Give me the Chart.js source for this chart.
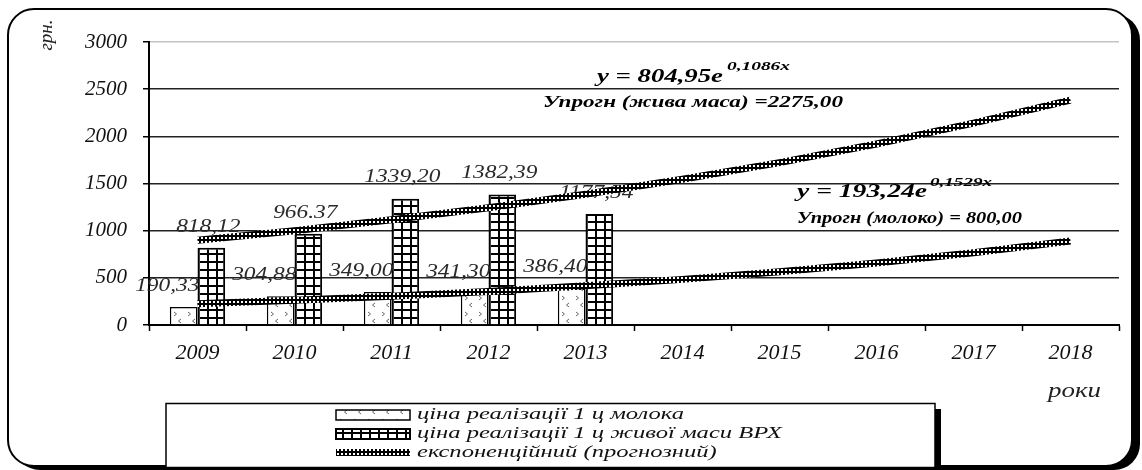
<!DOCTYPE html>
<html>
<head>
<meta charset="utf-8">
<script src="https://cdn.jsdelivr.net/npm/chart.js@4"></script>
<style>
html, body { margin: 0; padding: 0; background: #fff; }
canvas { display: block; }
</style>
</head>
<body>
<canvas id="grafik" width="1142" height="470"></canvas>
<script>
/* dani */
var roky = ['2009', '2010', '2011', '2012', '2013', '2014', '2015', '2016', '2017', '2018'];
var cinaMoloka = [190.33, 304.88, 349.00, 341.30, 386.40, null, null, null, null, null];
var cinaZhyvoiMasy = [818.12, 966.37, 1339.20, 1382.39, 1177.54, null, null, null, null, null];
var pidpysyMoloko = ['190,33', '304,88', '349,00', '341,30', '386,40'];
var pidpysyZhyvaMasa = ['818,12', '966.37', '1339,20', '1382,39', '1177,54'];
var trendZhyvaMasa = [897.3, 1000.2, 1115.0, 1242.9, 1385.5, 1544.4, 1721.6, 1919.1, 2139.3, 2384.7];
var trendMoloko = [225.2, 262.4, 305.7, 356.2, 415.0, 483.6, 563.5, 656.6, 765.1, 891.5];
var yMaks = 3000;
var yKrok = 500;

var shryft = 'Liberation Serif';

/* vizerunky */
function tegel(w, h, teken) {
    var c = document.createElement('canvas');
    c.width = w; c.height = h;
    var g = c.getContext('2d');
    g.fillStyle = '#fff';
    g.fillRect(0, 0, w, h);
    teken(g);
    return c;
}
var tegelMoloko = tegel(14, 16, function (g) {
    g.strokeStyle = '#666';
    g.lineWidth = 1;
    g.beginPath();
    g.moveTo(4, 3); g.lineTo(6.5, 5); g.lineTo(4, 7);
    g.moveTo(11, 10); g.lineTo(8.5, 12); g.lineTo(11, 14);
    g.stroke();
});
var tegelZhyva = tegel(9, 8, function (g) {
    g.fillStyle = '#000';
    g.fillRect(0, 0, 2, 8);
    g.fillRect(0, 0, 9, 2);
});
var tegelTrend = tegel(4, 4, function (g) {
    g.fillStyle = '#000';
    g.fillRect(0, 0, 4, 4);
    g.fillStyle = '#fff';
    g.fillRect(1, 1, 2, 2);
});

function vizerunok(c, t, zsuv) {
    var p = c.chart.ctx.createPattern(t, 'repeat');
    if (c.dataIndex !== undefined && c.chart.scales && c.chart.scales.x && c.chart.chartArea) {
        var x = c.chart.scales.x.getPixelForValue(c.dataIndex);
        var shyr = c.chart.scales.x.width / roky.length * 0.57 / 2;
        p.setTransform(new DOMMatrix([1, 0, 0, 1, Math.round(x + zsuv * shyr), c.chart.chartArea.bottom]));
    }
    return p;
}

function ramka(g, x, y, w, h, r) {
    g.beginPath();
    g.moveTo(x + r, y);
    g.lineTo(x + w - r, y);
    g.arcTo(x + w, y, x + w, y + r, r);
    g.lineTo(x + w, y + h - r);
    g.arcTo(x + w, y + h, x + w - r, y + h, r);
    g.lineTo(x + r, y + h);
    g.arcTo(x, y + h, x, y + h - r, r);
    g.lineTo(x, y + r);
    g.arcTo(x, y, x + r, y, r);
    g.closePath();
}

// tekst, roztiahnutyi po horyzontali (originalna kartynka roztiahnuta)
function tekst(g, t, x, y, font, sx, align) {
    g.save();
    g.font = font;
    g.translate(x, y);
    g.scale(sx, 1);
    g.textAlign = align || 'left';
    g.fillText(t, 0, 0);
    g.restore();
}
// tekst, pidignanyi do shyryny
function tekstShyr(g, t, x, y, font, shyr) {
    g.save();
    g.font = font;
    var w = g.measureText(t).width;
    g.restore();
    tekst(g, t, x, y, font, shyr / w, 'left');
}

var labelsGedaan = false;

var prykrasy = {
    id: 'prykrasy',
    beforeDraw: function (chart) {
        var g = chart.ctx;
        g.save();
        g.fillStyle = '#fff';
        g.fillRect(0, 0, chart.width, chart.height);
        g.fillStyle = '#000';
        ramka(g, 14, 14, 1126, 456, 26);
        g.fill();
        g.fillStyle = '#fff';
        ramka(g, 8, 9, 1124, 457, 26);
        g.fill();
        g.lineWidth = 2;
        g.strokeStyle = '#000';
        g.stroke();
        g.restore();
        labelsGedaan = false;
    },
    beforeDatasetDraw: function (chart, args) {
        if (args.meta.type !== 'line' || labelsGedaan) return;
        labelsGedaan = true;
        var g = chart.ctx;
        g.save();
        g.fillStyle = '#2a2a2a';
        g.textBaseline = 'middle';
        var f = 'italic 18px "' + shryft + '"';
        var m0 = chart.getDatasetMeta(0).data;
        var m1 = chart.getDatasetMeta(1).data;
        pidpysyMoloko.forEach(function (t, i) {
            var b = m0[i];
            tekst(g, t, b.x + b.width / 2 + 2, b.y - 21, f, 1.3, 'right');
        });
        pidpysyZhyvaMasa.forEach(function (t, i) {
            var b = m1[i];
            tekst(g, t, b.x - 3, b.y - 21, f, 1.3, 'center');
        });
        g.restore();
    },
    afterDraw: function (chart) {
        var g = chart.ctx;
        g.save();
        g.fillStyle = '#000';
        g.textBaseline = 'alphabetic';

        // rivniannia
        tekstShyr(g, 'y = 804,95e', 597, 82, 'bold italic 18px "' + shryft + '"', 126);
        tekstShyr(g, '0,1086x', 727, 70, 'bold italic 12px "' + shryft + '"', 63);
        tekstShyr(g, 'Упрогн (жива маса) =2275,00', 543, 107, 'bold italic 16px "' + shryft + '"', 300);

        tekstShyr(g, 'y = 193,24e', 797, 197, 'bold italic 19px "' + shryft + '"', 130);
        tekstShyr(g, '0,1529x', 930, 186, 'bold italic 12px "' + shryft + '"', 62);
        tekstShyr(g, 'Упрогн (молоко) = 800,00', 797, 223, 'bold italic 16px "' + shryft + '"', 225);

        // nazvy osei
        g.fillStyle = '#222';
        tekstShyr(g, 'роки', 1048, 397, 'italic 20px "' + shryft + '"', 53);
        g.save();
        g.translate(52, 35);
        g.rotate(-Math.PI / 2);
        g.textAlign = 'center';
        g.font = 'italic 19px "' + shryft + '"';
        g.fillText('грн.', 0, 0);
        g.restore();

        // lehenda
        g.fillStyle = '#000';
        g.fillRect(935, 409, 6, 58);
        g.fillStyle = '#fff';
        g.fillRect(166, 403, 769, 64);
        g.lineWidth = 1.5;
        g.strokeStyle = '#000';
        g.strokeRect(166, 403.5, 769, 64);

        g.fillStyle = g.createPattern(tegelMoloko, 'repeat');
        g.fillRect(336, 410, 74, 10);
        g.lineWidth = 1.5;
        g.strokeRect(336, 410, 74, 10);

        g.fillStyle = g.createPattern(tegelZhyva, 'repeat');
        g.fillRect(336, 429, 74, 10);
        g.lineWidth = 2;
        g.strokeRect(336, 429, 74, 10);

        g.fillStyle = g.createPattern(tegelTrend, 'repeat');
        g.fillRect(336, 449, 74, 7);

        g.fillStyle = '#111';
        g.textBaseline = 'middle';
        var lf = 'italic 17px "' + shryft + '"';
        g.font = lf;
        var sx = 267 / g.measureText('ціна реалізації 1 ц молока').width;
        tekst(g, 'ціна реалізації 1 ц молока', 417, 415, lf, sx);
        tekst(g, 'ціна реалізації 1 ц живої маси ВРХ', 417, 434, lf, sx);
        tekst(g, 'експоненційний (прогнозний)', 417, 453, lf, sx);
        g.restore();
    }
};

var ctx = document.getElementById('grafik').getContext('2d');
var chart = new Chart(ctx, {
    type: 'bar',
    data: {
        labels: roky,
        datasets: [{
            label: 'ціна реалізації 1 ц молока',
            data: cinaMoloka,
            backgroundColor: function (c) { return vizerunok(c, tegelMoloko, -1); },
            borderColor: '#000',
            borderWidth: 1.5,
            order: 1
        }, {
            label: 'ціна реалізації 1 ц живої маси ВРХ',
            data: cinaZhyvoiMasy,
            backgroundColor: function (c) { return vizerunok(c, tegelZhyva, 0); },
            borderColor: '#000',
            borderWidth: 2,
            order: 1
        }, {
            type: 'line',
            label: 'експоненційний (прогнозний)',
            data: trendZhyvaMasa,
            borderColor: ctx.createPattern(tegelTrend, 'repeat'),
            borderWidth: 7,
            pointRadius: 0,
            fill: false,
            tension: 0,
            order: 0
        }, {
            type: 'line',
            label: 'експоненційний (прогнозний)',
            data: trendMoloko,
            borderColor: ctx.createPattern(tegelTrend, 'repeat'),
            borderWidth: 7,
            pointRadius: 0,
            fill: false,
            tension: 0,
            order: 0
        }]
    },
    options: {
        responsive: false,
        animation: false,
        categoryPercentage: 0.57,
        barPercentage: 1.0,
        layout: { padding: { left: 0, top: 42, right: 23, bottom: 0 } },
        plugins: {
            legend: { display: false },
            tooltip: { enabled: false }
        },
        scales: {
            x: {
                offset: true,
                afterFit: function (s) { s.height = 145; },
                grid: { drawOnChartArea: false, tickLength: 6, tickColor: '#000', tickWidth: 1.5, offset: true },
                border: { color: '#000', width: 2 },
                ticks: { color: '#111', padding: 9, font: { family: shryft, style: 'italic', size: 22 } }
            },
            y: {
                min: 0,
                max: yMaks,
                afterFit: function (s) { s.width = 149; },
                grid: {
                    color: function (c) { return c.tick && c.tick.value === yMaks ? '#c4c4c4' : '#222'; },
                    lineWidth: 1.5,
                    tickLength: 6,
                    tickColor: '#000'
                },
                border: { color: '#000', width: 2 },
                ticks: {
                    stepSize: yKrok,
                    color: '#111',
                    padding: 16,
                    font: { family: shryft, style: 'italic', size: 21 },
                    callback: function (v) { return String(v); }
                }
            }
        }
    },
    plugins: [prykrasy]
});
</script>
</body>
</html>
